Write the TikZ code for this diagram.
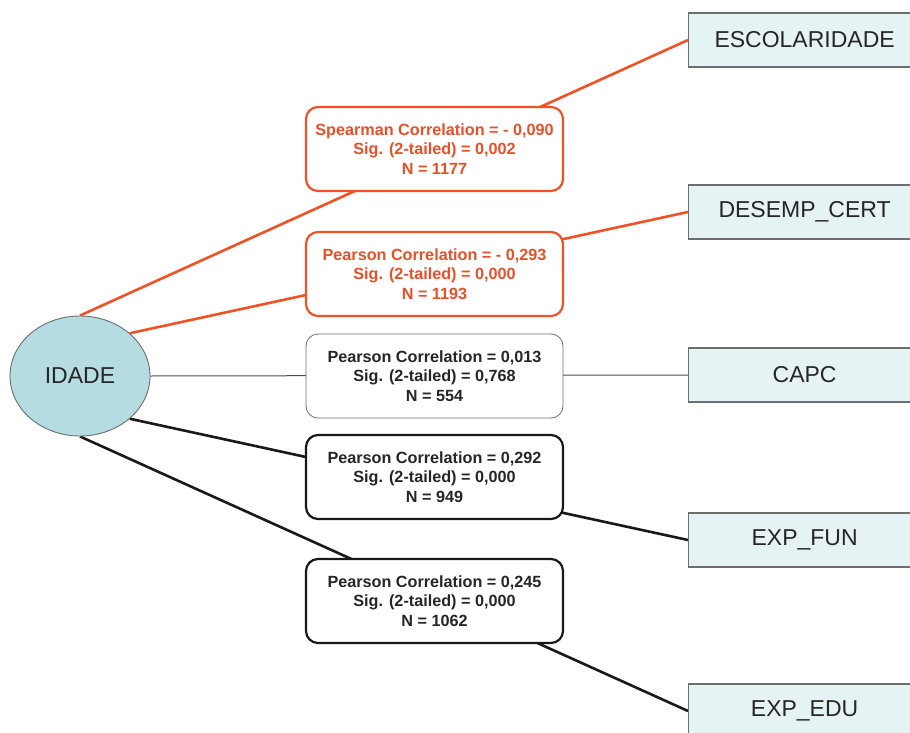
\documentclass[tikz,border=0pt]{standalone}
\usepackage{fontspec}
\setmainfont{Liberation Sans}[BoldFont={Liberation Sans Bold}]
\usetikzlibrary{shapes.geometric,backgrounds}
\definecolor{orng}{RGB}{240,82,38}
\definecolor{orngtxt}{RGB}{232,80,40}
\definecolor{lightbox}{RGB}{230,243,245}
\definecolor{ellfill}{RGB}{180,220,225}
\definecolor{edgegrey}{RGB}{110,110,110}
\begin{document}
\begin{tikzpicture}[x=1pt,y=-1pt,
  varbox/.style={draw=edgegrey,line width=1.2pt,fill=lightbox,minimum width=232pt,minimum height=54pt,anchor=west,inner sep=0pt,font=\fontsize{23}{26}\selectfont,text=black!85},
  statbox/.style={rounded corners=12pt,fill=white,minimum width=257pt,minimum height=84pt,align=center,inner sep=0pt,font=\fontsize{16.2}{19.5}\selectfont\bfseries},
  orangebox/.style={statbox,draw=orng,line width=2.2pt,text=orngtxt},
  greybox/.style={statbox,draw=edgegrey,line width=0.8pt,text=black!85},
  blackbox/.style={statbox,draw=black!90,line width=2.2pt,text=black!85},
  orangeline/.style={draw=orng,line width=2.6pt},
  greyline/.style={draw=black!70,line width=1pt},
  blackline/.style={draw=black!90,line width=2.6pt}
]
\useasboundingbox (0,0) rectangle (910,733);

\node[ellipse,draw=edgegrey,line width=0.9pt,fill=ellfill,minimum width=140pt,minimum height=120pt,inner sep=0pt,font=\fontsize{23}{26}\selectfont,text=black!85] (idade) at (80,376) {IDADE};

\node[varbox] (escol) at (688,40) {ESCOLARIDADE};
\node[varbox] (desemp) at (688,212) {DESEMP\_CERT};
\node[varbox] (capc) at (688,375) {CAPC};
\node[varbox] (expfun) at (688,540) {EXP\_FUN};
\node[varbox] (expedu) at (688,711) {EXP\_EDU};

\node[orangebox] (b1) at (434.5,149) {Spearman Correlation = - 0,090\\Sig. (2-tailed) = 0,002\\N = 1177};
\node[orangebox] (b2) at (434.5,274) {Pearson Correlation = - 0,293\\Sig. (2-tailed) = 0,000\\N = 1193};
\node[greybox] (b3) at (434.5,376) {Pearson Correlation = 0,013\\Sig. (2-tailed) = 0,768\\N = 554};
\node[blackbox] (b4) at (434.5,477) {Pearson Correlation = 0,292\\Sig. (2-tailed) = 0,000\\N = 949};
\node[blackbox] (b5) at (434.5,601) {Pearson Correlation = 0,245\\Sig. (2-tailed) = 0,000\\N = 1062};

\begin{pgfonlayer}{background}
\draw[orangeline] (idade.north) -- (escol.west);
\draw[orangeline] (idade.north east) -- (desemp.west);
\draw[greyline] (idade.east) -- (capc.west);
\draw[blackline] (idade.south east) -- (expfun.west);
\draw[blackline] (idade.south) -- (expedu.west);
\end{pgfonlayer}
\end{tikzpicture}
\end{document}
